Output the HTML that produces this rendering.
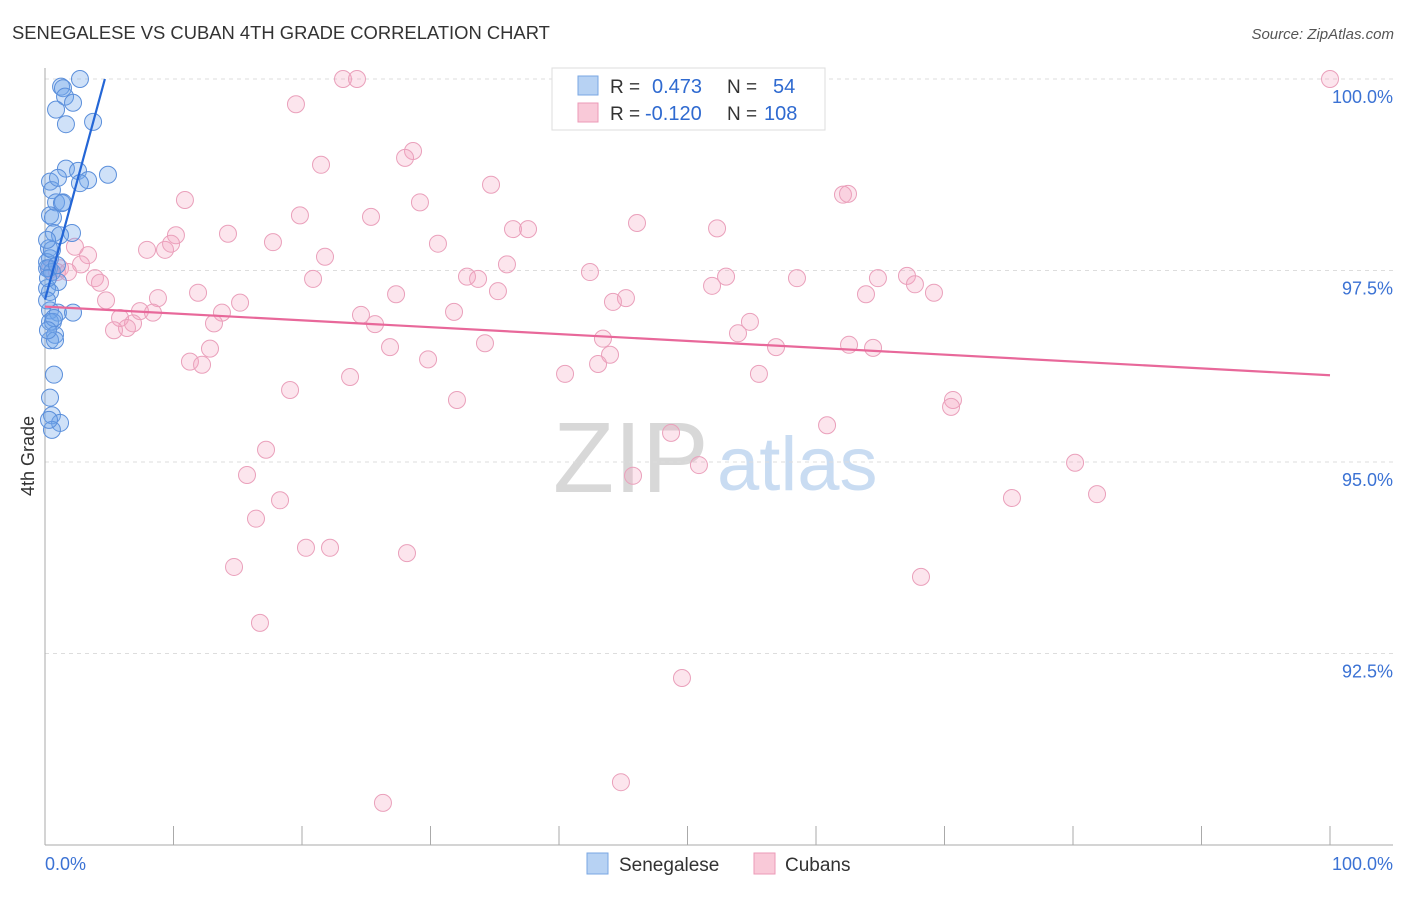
<!DOCTYPE html>
<html><head><meta charset="utf-8"><style>
body{margin:0;background:#fff;font-family:"Liberation Sans",sans-serif;}
svg text{font-family:"Liberation Sans",sans-serif;}
</style></head><body>
<svg id="c" width="1406" height="892" xmlns="http://www.w3.org/2000/svg">
<text x="12" y="39" font-size="18.4" fill="#333">SENEGALESE VS CUBAN 4TH GRADE CORRELATION CHART</text>
<text x="1394" y="39" font-size="15" fill="#555" text-anchor="end" font-style="italic">Source: ZipAtlas.com</text>
<text x="34" y="456" font-size="18" fill="#333" text-anchor="middle" transform="rotate(-90 34 456)">4th Grade</text>
<g>
<text x="553" y="492" font-size="100" fill="#d8d8d8" font-family="Liberation Serif,serif">ZIP</text>
<text x="717" y="490" font-size="76" fill="#c9dcf2">atlas</text>
</g>
<g id="grid"></g>
<g id="axes"></g>
<g id="pts"></g>
<g id="trend"></g>
<g>
<rect x="552" y="68" width="273" height="62" fill="#fff" stroke="#ddd"/>
<rect x="578" y="76" width="20" height="19" fill="#b7d2f3" stroke="#7aa7e3"/>
<rect x="578" y="103" width="20" height="19" fill="#f9c9d8" stroke="#ec9ab7"/>
<text x="610" y="93" font-size="19" fill="#333">R = </text><text x="652" y="93" font-size="20" fill="#2f6ad0">0.473</text>
<text x="727" y="93" font-size="19" fill="#333">N = </text><text x="773" y="93" font-size="20" fill="#2f6ad0">54</text>
<text x="610" y="120" font-size="19" fill="#333">R = </text><text x="645" y="120" font-size="20" fill="#2f6ad0">-0.120</text>
<text x="727" y="120" font-size="19" fill="#333">N = </text><text x="764" y="120" font-size="20" fill="#2f6ad0">108</text>
</g>
<g>
<rect x="587" y="853" width="21" height="21" fill="#b7d2f3" stroke="#7aa7e3"/>
<text x="619" y="871" font-size="19" fill="#333">Senegalese</text>
<rect x="754" y="853" width="21" height="21" fill="#f9c9d8" stroke="#ec9ab7"/>
<text x="785" y="871" font-size="19" fill="#333">Cubans</text>
</g>
</svg>
<script>
const blueX=[2.72,1.25,1.4,1.56,2.18,0.86,1.63,3.74,4.9,1.63,2.57,3.35,2.72,0.39,0.54,0.86,1.4,0.39,0.62,0.7,2.1,1.17,0.31,0.39,0.16,0.31,0.54,1.01,0.16,0.39,0.39,1.01,2.18,0.39,0.62,0.78,0.39,0.78,0.7,0.39,0.54,1.17,0.54,0.16,0.23,0.16,0.7,0.23,0.54,0.93,0.16,1.32,1.01,0.31];
const blueY=[100,99.9,99.88,99.77,99.69,99.6,99.41,99.44,98.75,98.83,98.8,98.68,98.64,98.66,98.55,98.39,98.39,98.22,98.19,97.99,97.99,97.96,97.79,97.66,97.61,97.53,97.48,97.35,97.27,97.22,96.98,96.95,96.95,96.83,96.83,96.66,96.59,96.59,96.14,95.84,95.61,95.51,95.42,97.53,97.4,97.11,96.88,96.72,97.77,97.57,97.9,98.38,98.71,95.55];
const pinkX=[23.19,24.28,100,19.53,28.64,28.02,21.48,34.71,62.1,62.49,10.89,29.18,19.84,25.37,46.07,52.3,36.42,37.59,10.19,14.24,17.74,30.58,7.94,9.34,9.81,2.33,3.35,21.79,2.8,35.95,42.41,53,58.52,64.82,67.08,32.84,33.7,20.86,1.17,0.39,0.93,1.79,3.89,4.28,67.7,51.91,11.91,8.79,27.32,35.25,63.89,69.18,45.21,44.2,4.75,15.18,31.83,24.59,13.77,7.39,8.4,5.84,6.85,6.38,5.37,13.15,25.68,54.86,53.93,43.42,34.24,12.84,26.85,56.89,62.57,64.44,43.97,29.81,11.28,12.22,40.47,43.04,55.56,23.74,19.07,32.06,70.66,70.51,60.86,48.72,17.2,50.89,45.76,80.16,15.72,81.87,75.25,18.29,16.42,20.31,22.18,28.17,14.71,68.17,16.73,49.57,44.82,26.3];
const pinkY=[100,100,100,99.67,99.06,98.97,98.88,98.62,98.49,98.5,98.42,98.39,98.22,98.2,98.12,98.05,98.04,98.04,97.96,97.98,97.87,97.85,97.77,97.77,97.85,97.81,97.7,97.68,97.58,97.58,97.48,97.42,97.4,97.4,97.43,97.42,97.39,97.39,97.53,97.51,97.48,97.48,97.4,97.34,97.32,97.3,97.21,97.14,97.19,97.23,97.19,97.21,97.14,97.09,97.11,97.08,96.96,96.92,96.95,96.97,96.95,96.88,96.81,96.75,96.72,96.81,96.8,96.83,96.68,96.61,96.55,96.48,96.5,96.5,96.53,96.49,96.4,96.34,96.31,96.27,96.15,96.28,96.15,96.11,95.94,95.81,95.81,95.72,95.48,95.38,95.16,94.96,94.82,94.99,94.83,94.58,94.53,94.5,94.26,93.88,93.88,93.81,93.63,93.5,92.9,92.18,90.82,90.55];
const yTicks=[100,97.5,95,92.5];
const yTickLabels=["100.0%","97.5%","95.0%","92.5%"];
const xTicks=[0,10,20,30,40,50,60,70,80,90,100];
const NS="http://www.w3.org/2000/svg";
const X0=45,X1=1330,Y100=79,PPY=76.6;
const sx=v=>X0+(X1-X0)*v/100;
const sy=v=>Y100+(100-v)*PPY;
function mk(t,a,p){const e=document.createElementNS(NS,t);for(const k in a)e.setAttribute(k,a[k]);(p||document.getElementById('c')).appendChild(e);return e;}
const grid=document.getElementById('grid'),axes=document.getElementById('axes');
yTicks.forEach((v,i)=>{
 const l=mk('line',{x1:45,x2:1393,y1:sy(v),y2:sy(v),stroke:'#ddd','stroke-dasharray':'4,4'},grid);
 
 
 const t=mk('text',{x:1393,y:sy(v)+24,'font-size':18,fill:'#3b72d4','text-anchor':'end'},axes);
 t.textContent=yTickLabels[i];
 
 
});
const ya=mk('line',{x1:45,x2:45,y1:68,y2:845,stroke:'#aaa'},axes);


const xa=mk('line',{x1:45,x2:1393,y1:845,y2:845,stroke:'#aaa'},axes);


xTicks.forEach(v=>{const t=mk('line',{x1:sx(v),x2:sx(v),y1:826,y2:845,stroke:'#aaa'},axes);
 
 });
const xl=mk('text',{x:45,y:870,'font-size':18,fill:'#3b72d4'},axes);xl.textContent="0.0%";


const xr=mk('text',{x:1393,y:870,'font-size':18,fill:'#3b72d4','text-anchor':'end'},axes);xr.textContent="100.0%";


const pts=document.getElementById('pts');
pinkX.forEach((x,i)=>{const c=mk('circle',{cx:sx(x),cy:sy(pinkY[i]),r:8.5,fill:'rgba(244,160,190,0.28)',stroke:'#eaa0bb','stroke-width':1},pts);
 
 });
blueX.forEach((x,i)=>{const c=mk('circle',{cx:sx(x),cy:sy(blueY[i]),r:8.5,fill:'rgba(110,165,235,0.33)',stroke:'#5b8fdb','stroke-width':1},pts);
 
 });
function reg(xs,ys){const n=xs.length;let mx=0,my=0;xs.forEach((x,i)=>{mx+=x;my+=ys[i];});mx/=n;my/=n;let sxy=0,sxx=0;xs.forEach((x,i)=>{sxy+=(x-mx)*(ys[i]-my);sxx+=(x-mx)**2;});const b=sxy/sxx;return [my-b*mx,b];}
const tr=document.getElementById('trend');
const [pa,pb]=reg(pinkX,pinkY);
const pl=mk('line',{x1:sx(0),y1:sy(pa),x2:sx(100),y2:sy(pa+pb*100),stroke:'#e8689a','stroke-width':2.2},tr);


const [ba,bb]=reg(blueX,blueY);
let xe=Math.max(...blueX);if(bb>0){xe=Math.min(100,(100-ba)/bb);}
const bl=mk('line',{x1:sx(0),y1:sy(ba),x2:sx(xe),y2:sy(ba+bb*xe),stroke:'#2466d6','stroke-width':2.2},tr);


</script>
</body></html>
